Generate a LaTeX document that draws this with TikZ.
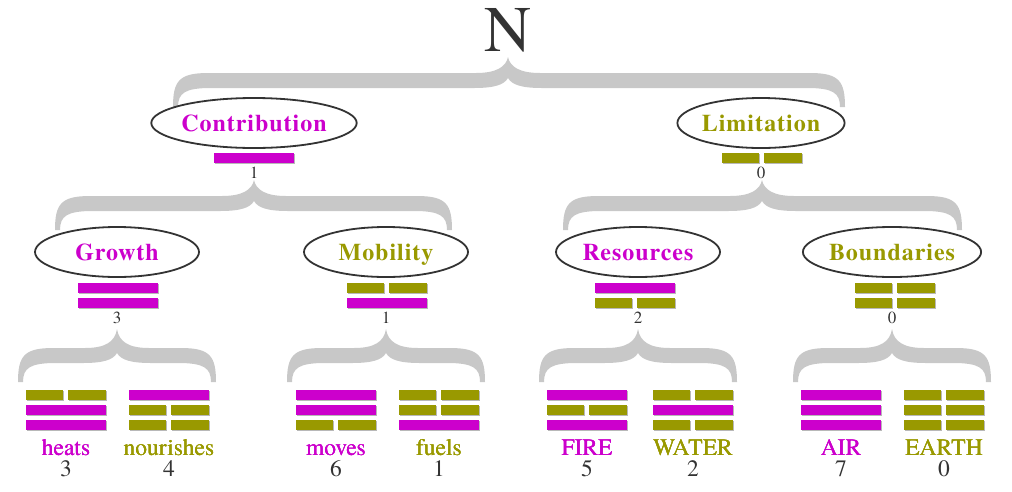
\documentclass[tikz,border=0pt]{standalone}
\usepackage{fontspec}
\setmainfont{TeX Gyre Termes}
\newfontfamily\catfont{TeX Gyre Termes}[LetterSpace=4]
\usepackage{tikz}
\usetikzlibrary{calc, shapes.geometric}

\definecolor{yang}{HTML}{CC00CC}
\definecolor{yin}{HTML}{999900}
\definecolor{ink}{HTML}{333333}
\definecolor{bracegray}{HTML}{C8C8C8}

% one line of a figure: x centre, top y, bit
\newcommand{\yao}[3]{%
	\ifnum#3=1
		\fill[barshadow] (#1-39,#2+1) rectangle ++(80,10);
		\fill[yang] (#1-40,#2) rectangle ++(80,10);
	\else
		\fill[barshadow] (#1-39,#2+1) rectangle ++(37,10);
		\fill[barshadow] (#1+3,#2+1) rectangle ++(38,10);
		\fill[yin] (#1-40,#2) rectangle ++(37,10);
		\fill[yin] (#1+2,#2) rectangle ++(38,10);
	\fi}

% curly brace below a tip: tip, left reach, right reach, depth
\newcommand{\curly}[4]{%
	\pgfmathsetmacro\ct{#4-34}
	\pgfmathsetmacro\cb{#4-19}
	\fill[bracegray, shift={(#1)}] (-#2,#4) .. controls (-#2,\ct+8) and (-#2+6,\ct) .. (-#2+35,\ct)
		-- (-32,\ct) .. controls (-12,\ct) and (-2,\ct-6) .. (0,0)
		.. controls (2,\ct-6) and (12,\ct) .. (32,\ct)
		-- (#3-35,\ct) .. controls (#3-6,\ct) and (#3,\ct+8) .. (#3,#4)
		-- (#3-5,#4) .. controls (#3-5,\cb+5) and (#3-12,\cb) .. (#3-38,\cb)
		-- (34,\cb) .. controls (14,\cb) and (4,\cb-3) .. (0,\cb-10)
		.. controls (-4,\cb-3) and (-14,\cb) .. (-34,\cb)
		-- (-#2+38,\cb) .. controls (-#2+12,\cb) and (-#2+5,\cb+5) .. (-#2+5,#4) -- cycle;}

\begin{document}
\begin{tikzpicture}[x=1pt, y=-1pt,
		barshadow/.style={fill=black!28},
		cat/.style={ellipse, draw=ink, line width=1.8pt, fill=white, minimum width=164pt, minimum height=50pt,
			inner sep=0pt, text height=16.2pt, text depth=0pt, font=\catfont\bfseries\fontsize{24}{24}\selectfont},
		val/.style={anchor=base, inner sep=0pt, text=ink, font=\fontsize{17}{17}\selectfont},
		word/.style={anchor=base, inner sep=0pt, font=\fontsize{23.5}{23.5}\selectfont},
		leafval/.style={anchor=base, inner sep=0pt, text=ink, font=\fontsize{23.5}{23.5}\selectfont}]
	\useasboundingbox (0,0) rectangle (1012,491);
	
	% root
	\node[anchor=base, inner sep=0pt, text=ink, font=\fontsize{65}{65}\selectfont] (root) at (508,51) {N};
	\curly{$(root.base)+(0,6)$}{335}{337}{50}
	
	% first level
	\node[cat, text=yang] (contrib) at (254,123) {Contribution};
	\yao{254}{153}{1}
	\node[val] (v-contrib) at (254,178) {1};
	
	\node[cat, text=yin] (limit) at (761,123) {Limitation};
	\yao{762}{153}{0}
	\node[val] (v-limit) at (761,178) {0};
	
	\curly{$(v-contrib.base)+(0,2)$}{199}{198}{50}
	\curly{$(v-limit.base)+(1,2)$}{199}{200}{50}
	
	% second level
	\foreach \x/\bx/\name/\word/\col/\a/\b/\v in {117/118/growth/Growth/yang/1/1/3,
		386/387/mobility/Mobility/yin/0/1/1,
		638/635/resources/Resources/yang/1/0/2,
		892/895/boundaries/Boundaries/yin/0/0/0}
	{
		\node[cat, text=\col] (\name) at (\x,252) {\word};
		\yao{\bx}{283}{\a}
		\yao{\bx}{298}{\b}
		\node[val] (v-\name) at (\x,323) {\v};
		\curly{$(v-\name.base)+(0,6)$}{99}{99}{53}
	}
	
	% figures
	\foreach \x/\a/\b/\c/\word/\v/\col in {66/0/1/1/heats/3/yang, 169/1/0/0/nourishes/4/yin,
		336/1/1/0/moves/6/yang, 439/0/0/1/fuels/1/yin,
		587/1/0/1/FIRE/5/yang, 693/0/1/0/WATER/2/yin,
		841/1/1/1/AIR/7/yang, 944/0/0/0/EARTH/0/yin}
	{
		\foreach \bit [count=\i] in {\a,\b,\c}
			\yao{\x}{375+15*\i}{\bit}
		\node[word, text=\col] (w-\word) at (\x,455) {\word};
		\node[leafval] (n-\word) at (\x,476) {\v};
	}
\end{tikzpicture}
\end{document}
